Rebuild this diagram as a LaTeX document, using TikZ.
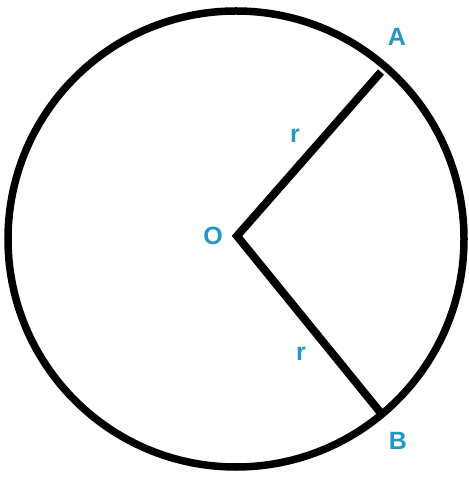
\documentclass[tikz,border=0pt]{standalone}
\usepackage{fontspec}
\setmainfont{Liberation Sans}
\definecolor{lbl}{RGB}{35,150,195}
\begin{document}
\begin{tikzpicture}[x=1pt,y=1pt,
  lab/.style={text=lbl,font=\fontsize{25}{25}\selectfont\bfseries,inner sep=0pt}]
\useasboundingbox (0,0) rectangle (468,478);
\coordinate (C) at (236,239);
\draw[line width=7.5pt] (C) circle (228);
\coordinate (O) at (237,242);
\coordinate (A) at (381,406);
\coordinate (B) at (380,66);
\draw[line width=8pt,line join=miter] (A) -- (O) -- (B);
\node[lab] (lA) at (397,441) {A};
\node[lab] (lB) at (398,37) {B};
\node[lab] (lO) at (213,242) {O};
\node[lab] (r1) at (295,342) {r};
\node[lab] (r2) at (301,124) {r};
\end{tikzpicture}
\end{document}
